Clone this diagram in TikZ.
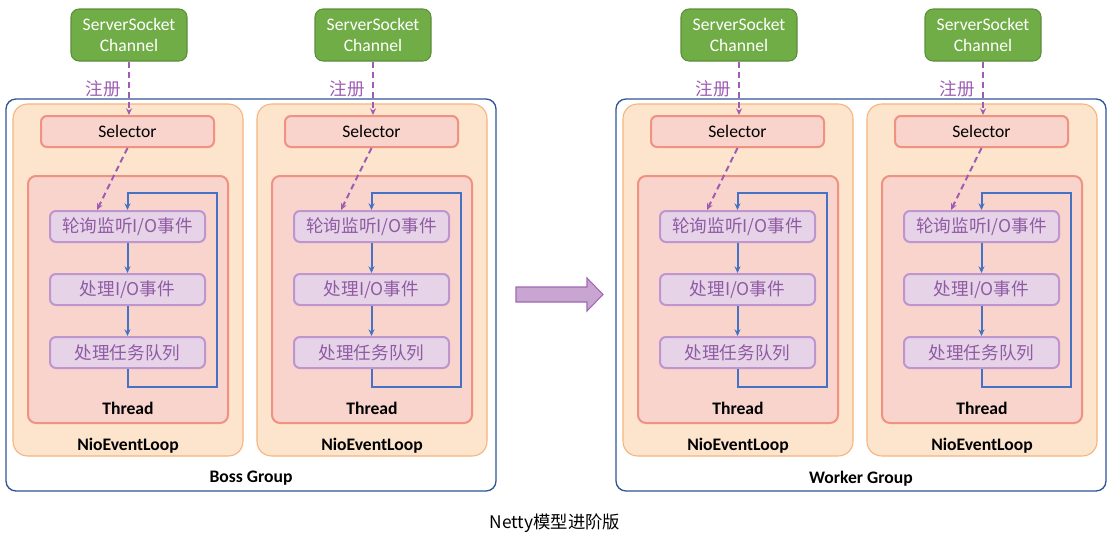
\documentclass[tikz,border=0pt]{standalone}
\usepackage{fontspec}
\setmainfont{Carlito}
\newfontfamily\cjk{Noto Sans CJK SC}
\usepackage{xcolor}
\definecolor{grpblue}{HTML}{2F5597}
\definecolor{nelfill}{HTML}{FCE4CD}
\definecolor{nelline}{HTML}{F6B37C}
\definecolor{thfill}{HTML}{F8D4CC}
\definecolor{thline}{HTML}{EF9282}
\definecolor{stepfill}{HTML}{E6D3E8}
\definecolor{stepline}{HTML}{BE95CC}
\definecolor{steptext}{HTML}{8F5BA3}
\definecolor{chfill}{HTML}{70AD47}
\definecolor{chline}{HTML}{5B8F3A}
\definecolor{loopblue}{HTML}{4472C4}
\definecolor{regpurple}{HTML}{9E5DB3}
\definecolor{bigfill}{HTML}{C9A6D2}
\definecolor{bigline}{HTML}{A068B4}
\usetikzlibrary{arrows.meta}
\tikzset{
  every node/.style={inner sep=0pt, font=\fontsize{13.2}{16}\selectfont},
  group/.style={draw=grpblue, line width=1pt, fill=white, rounded corners=7.5pt,
    minimum width=367.5pt, minimum height=294pt},
  nel/.style={draw=nelline, line width=0.8pt, fill=nelfill, rounded corners=11pt,
    minimum width=172.5pt, minimum height=264pt},
  threadbox/.style={draw=thline, line width=1.5pt, fill=thfill, rounded corners=6pt,
    minimum width=150pt, minimum height=185.25pt},
  selbox/.style={draw=thline, line width=1.5pt, fill=thfill, rounded corners=4.5pt,
    minimum width=129.75pt, minimum height=23.25pt},
  stepbox/.style={draw=stepline, line width=1.5pt, fill=stepfill, rounded corners=4.5pt,
    minimum width=116.25pt, minimum height=23.25pt, text=steptext,
    font=\cjk\fontsize{13.2}{16}\selectfont},
  chbox/.style={draw=chline, line width=0.8pt, fill=chfill, rounded corners=6pt,
    minimum width=87pt, minimum height=39pt, text=white, align=center,
    font=\fontsize{13.2}{15.75}\selectfont},
  loopline/.style={draw=loopblue, line width=1.5pt, -{Stealth[length=5pt,width=4.5pt]}},
  regline/.style={draw=regpurple, line width=1.5pt, dash pattern=on 4.5pt off 3pt,
    -{Stealth[length=5pt,width=4.5pt]}},
  title/.style={font=\bfseries\fontsize{13.2}{16}\selectfont}
}

\begin{document}
\begin{tikzpicture}[x=0.75pt, y=-0.75pt]
    \useasboundingbox (0,0) rectangle (1115,539);

    % the two groups
    \node[group] (boss) at (251,295) {};
    \node[group] (worker) at (861,295) {};
    \node[title] (bossl) at (251,478.5) {Boss Group};
    \node[title] (workerl) at (861,478.5) {Worker Group};

    % one NioEventLoop each
    \foreach \o [count=\i] in {0,244,610,854} {
      \node[nel] (nel\i) at (\o+128,280) {};
      \node[title] (nell\i) at (\o+128,445.5) {NioEventLoop};
      \node[threadbox] (th\i) at (\o+128,299.5) {};
      \node[title] (thl\i) at (\o+128,408) {Thread};
      \node[selbox] (sel\i) at (\o+127.5,131.5) {Selector};
      \node[stepbox] (pa\i) at (\o+127.5,226.5) {轮询监听I/O事件};
      \node[stepbox] (pb\i) at (\o+127.5,289.5) {处理I/O事件};
      \node[stepbox] (pc\i) at (\o+127.5,352.5) {处理任务队列};
      \node[chbox] (ch\i) at (\o+129,35) {ServerSocket\\Channel};
      \node[text=regpurple, font=\cjk\fontsize{13.2}{16}\selectfont] (reg\i) at (\o+103,89) {注册};

      \draw[loopline] (pa\i) -- (pb\i);
      \draw[loopline] (pb\i) -- (pc\i);
      \coordinate (lb\i) at (\o+217,387);
      \coordinate (lt\i) at (\o+217,193);
      \draw[loopline] (pc\i.south) |- (lb\i) -- (lt\i) -| (pa\i.north);

      \draw[regline] (ch\i.south) -- (ch\i.south |- sel\i.north);
      \draw[regline] (sel\i.south) -- ([xshift=36pt]pa\i.north west);
    }

    % boss -> worker
    \draw[draw=bigline, line width=0.8pt, fill=bigfill]
      (516,287) -- (587,287) -- (587,278) -- (603,294.5) -- (587,311)
      -- (587,302) -- (516,302) -- cycle;

    \node[font=\cjk\fontsize{13}{16}\selectfont] (cap) at (555,523) {Netty模型进阶版};
\end{tikzpicture}
\end{document}
